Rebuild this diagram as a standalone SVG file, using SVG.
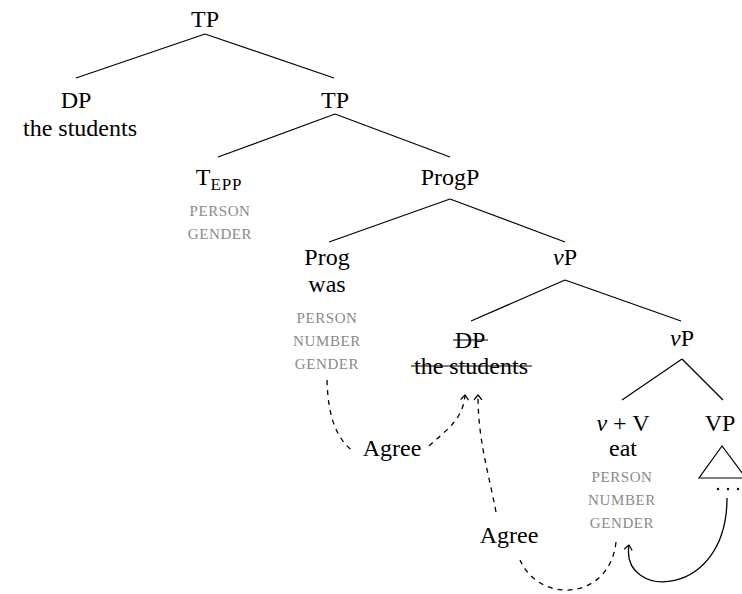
<svg xmlns="http://www.w3.org/2000/svg" width="742" height="594" viewBox="0 0 742 594">
  <style>
    text { font-family: "Liberation Serif", "Times New Roman", serif; fill: #000; }
    .n { font-size: 24px; text-anchor: middle; }
    .f { font-size: 15px; text-anchor: middle; fill: #8a8a8a; letter-spacing: 0.6px; }
    .branch { stroke: #000; stroke-width: 1.2; fill: none; }
    .agree { stroke: #000; stroke-width: 1.3; fill: none; stroke-dasharray: 5 5; }
    .solid { stroke: #000; stroke-width: 1.3; fill: none; }
    .strike { stroke: #000; stroke-width: 1.2; }
  </style>
  <defs>
    <marker id="tip" viewBox="-6 -5 8 10" markerWidth="8" markerHeight="10" refX="0" refY="0" orient="auto" markerUnits="userSpaceOnUse">
      <path d="M-5,-4 Q-1,-1 0,0 Q-1,1 -5,4" fill="none" stroke="#000" stroke-width="1.2" stroke-dasharray="none"/>
    </marker>
  </defs>

  <!-- tree branches -->
  <g id="branches">
    <line class="branch" x1="205" y1="34" x2="76" y2="78"/>
    <line class="branch" x1="205" y1="34" x2="334" y2="78"/>
    <line class="branch" x1="335" y1="114" x2="218" y2="157"/>
    <line class="branch" x1="335" y1="114" x2="450" y2="157"/>
    <line class="branch" x1="450" y1="199" x2="329" y2="242"/>
    <line class="branch" x1="450" y1="199" x2="565" y2="242"/>
    <line class="branch" x1="565" y1="280" x2="471" y2="321"/>
    <line class="branch" x1="565" y1="280" x2="681" y2="321"/>
    <line class="branch" x1="682" y1="359" x2="622" y2="400"/>
    <line class="branch" x1="682" y1="359" x2="723" y2="400"/>
  </g>

  <g id="tp-root"><text class="n" x="205" y="27">TP</text></g>

  <g id="dp-subject">
    <text class="n" x="76" y="108">DP</text>
    <text class="n" x="80" y="136">the students</text>
  </g>

  <g id="tp-bar"><text class="n" x="335" y="108">TP</text></g>

  <g id="t-epp">
    <text class="n" x="219" y="185">T<tspan font-size="17" dy="5" letter-spacing="0.8">EPP</tspan></text>
    <text class="f" x="220" y="216">PERSON</text>
    <text class="f" x="220" y="239">GENDER</text>
  </g>

  <g id="progp"><text class="n" x="450" y="185">ProgP</text></g>

  <g id="prog">
    <text class="n" x="327" y="265">Prog</text>
    <text class="n" x="327" y="292">was</text>
    <text class="f" x="327" y="323">PERSON</text>
    <text class="f" x="327" y="346">NUMBER</text>
    <text class="f" x="327" y="369">GENDER</text>
  </g>

  <g id="vp-upper"><text class="n" x="565" y="265"><tspan font-style="italic">v</tspan>P</text></g>

  <g id="dp-trace">
    <text class="n" x="470" y="348">DP</text>
    <text class="n" x="471" y="374">the students</text>
    <line class="strike" x1="453" y1="340" x2="488" y2="340"/>
    <line class="strike" x1="411" y1="366" x2="532" y2="366"/>
  </g>

  <g id="vp-lower"><text class="n" x="682" y="346"><tspan font-style="italic">v</tspan>P</text></g>

  <g id="v-plus-v">
    <text class="n" x="623" y="431"><tspan font-style="italic">v</tspan> + V</text>
    <text class="n" x="623" y="456">eat</text>
    <text class="f" x="622" y="482">PERSON</text>
    <text class="f" x="622" y="505">NUMBER</text>
    <text class="f" x="622" y="528">GENDER</text>
  </g>

  <g id="vp-triangle">
    <text class="n" x="720" y="431">VP</text>
    <path class="branch" d="M722,446 L699,478 L746,478 Z"/>
    <circle cx="718" cy="489" r="1.2" fill="#000"/>
    <circle cx="728" cy="489" r="1.2" fill="#000"/>
    <circle cx="738" cy="489" r="1.2" fill="#000"/>
  </g>

  <!-- agreement and movement connectors -->
  <g id="connectors">
    <path class="agree" d="M327,380 C328,420 338,440 354,452"/>
    <path class="agree" d="M429,446 C446,430 463,420 465,395" marker-end="url(#tip)"/>
    <path class="agree" d="M616,542 C610,600 540,605 520,560"/>
    <path class="agree" d="M496,512 C488,470 478,440 478,395" marker-end="url(#tip)"/>
    <path class="solid" d="M727,498 C727,600 620,600 629,545" marker-end="url(#tip)"/>
  </g>

  <g id="agree-labels">
    <text class="n" x="392" y="456">Agree</text>
    <text class="n" x="509" y="543">Agree</text>
  </g>
</svg>
